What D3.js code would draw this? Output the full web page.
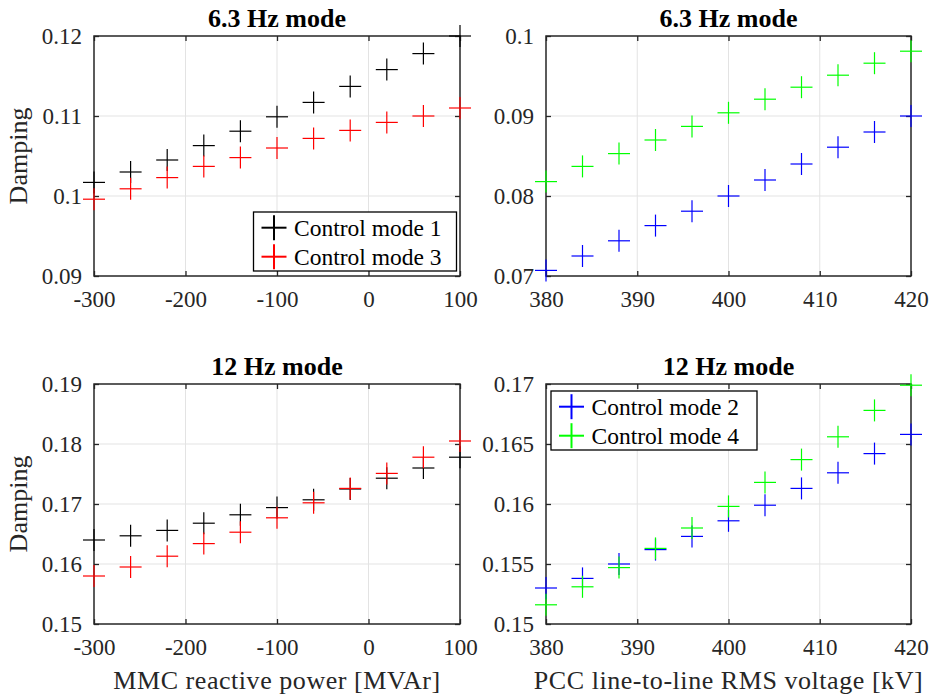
<!DOCTYPE html>
<html>
<head>
<meta charset="utf-8">
<script src="https://cdn.jsdelivr.net/npm/d3@7"></script>
<style>
	body{ margin:0; background:#fff; }
	svg{ display:block; font-family:"Liberation Serif","Times New Roman",serif; }
</style>
</head>
<body>
<svg id="chart" width="929" height="698"></svg>
<script>
	// reactive power sweep (left column) and PCC voltage sweep (right column)
	var q_values = [-300, -260, -220, -180, -140, -100, -60, -20, 20, 60, 100];
	var v_values = [380, 384, 388, 392, 396, 400, 404, 408, 412, 416, 420];

	// 6.3 Hz mode
	var m63_mode1 = [0.1017, 0.1030, 0.1045, 0.1063, 0.1081, 0.1099, 0.1117, 0.1137, 0.1158, 0.1178, 0.1200];
	var m63_mode3 = [0.0996, 0.1009, 0.1023, 0.1037, 0.1048, 0.1060, 0.1072, 0.1082, 0.1092, 0.1100, 0.1110];
	var m63_mode2 = [0.0707, 0.0725, 0.0744, 0.0763, 0.0781, 0.0800, 0.0820, 0.0840, 0.0861, 0.0880, 0.0900];
	var m63_mode4 = [0.0818, 0.0837, 0.0853, 0.0870, 0.0887, 0.0904, 0.0921, 0.0936, 0.0951, 0.0966, 0.0981];

	// 12 Hz mode
	var m12_mode1 = [0.1640, 0.1647, 0.1656, 0.1668, 0.1682, 0.1694, 0.1707, 0.1725, 0.1743, 0.1760, 0.1778];
	var m12_mode3 = [0.1580, 0.1595, 0.1613, 0.1634, 0.1653, 0.1677, 0.1702, 0.1726, 0.1751, 0.1778, 0.1805];
	var m12_mode2 = [0.1530, 0.1538, 0.1550, 0.1562, 0.1573, 0.1586, 0.1599, 0.1613, 0.1626, 0.1642, 0.1658];
	var m12_mode4 = [0.1516, 0.1531, 0.1547, 0.1563, 0.1580, 0.1598, 0.1618, 0.1637, 0.1656, 0.1678, 0.1699];

	var q_ticks = [-300, -200, -100, 0, 100];
	var v_ticks = [380, 390, 400, 410, 420];
	var y_ticks_tl = [0.09, 0.1, 0.11, 0.12];
	var y_ticks_tr = [0.07, 0.08, 0.09, 0.1];
	var y_ticks_bl = [0.15, 0.16, 0.17, 0.18, 0.19];
	var y_ticks_br = [0.15, 0.155, 0.16, 0.165, 0.17];

	var font = "'Liberation Serif', 'Times New Roman', serif";
	var axis_color = "#262626";
	var grid_color = "#e3e3e3";
	var m = 11; // half size of the + markers

	var panels = [
		{ left: 94, top: 36, w: 366, h: 240, title: "6.3 Hz mode", x: q_values, xdom: [-300, 100], xticks: q_ticks,
		  ydom: [0.09, 0.12], yticks: y_ticks_tl, ylabel: "Damping", xlabel: null,
		  series: [{ name: "Control mode 1", v: m63_mode1, c: "#000000" }, { name: "Control mode 3", v: m63_mode3, c: "#ff0000" }],
		  legend: { dx: 159.5, dy: 176, w: 203, h: 59 } },
		{ left: 546, top: 36, w: 365, h: 240, title: "6.3 Hz mode", x: v_values, xdom: [380, 420], xticks: v_ticks,
		  ydom: [0.07, 0.1], yticks: y_ticks_tr, ylabel: null, xlabel: null,
		  series: [{ name: "Control mode 2", v: m63_mode2, c: "#0000ff" }, { name: "Control mode 4", v: m63_mode4, c: "#00ff00" }],
		  legend: null },
		{ left: 94, top: 384, w: 366, h: 240, title: "12 Hz mode", x: q_values, xdom: [-300, 100], xticks: q_ticks,
		  ydom: [0.15, 0.19], yticks: y_ticks_bl, ylabel: "Damping", xlabel: "MMC reactive power [MVAr]",
		  series: [{ name: "Control mode 1", v: m12_mode1, c: "#000000" }, { name: "Control mode 3", v: m12_mode3, c: "#ff0000" }],
		  legend: null },
		{ left: 546, top: 384, w: 365, h: 240, title: "12 Hz mode", x: v_values, xdom: [380, 420], xticks: v_ticks,
		  ydom: [0.15, 0.17], yticks: y_ticks_br, ylabel: null, xlabel: "PCC line-to-line RMS voltage [kV]",
		  series: [{ name: "Control mode 2", v: m12_mode2, c: "#0000ff" }, { name: "Control mode 4", v: m12_mode4, c: "#00ff00" }],
		  legend: { dx: 5, dy: 7, w: 206, h: 59 } }
	];

	var svg = d3.select("#chart");

	function plus(sel, size, width){
		sel.append("line").attr("x1", -size).attr("x2", size).attr("y1", 0).attr("y2", 0);
		sel.append("line").attr("x1", 0).attr("x2", 0).attr("y1", -size).attr("y2", size);
		sel.selectAll("line").attr("stroke-width", width);
	}

	panels.forEach(function(p){
		var g = svg.append("g").attr("transform", "translate(" + p.left + "," + p.top + ")");

		var xscale = d3.scaleLinear().domain(p.xdom).range([0, p.w]);
		var yscale = d3.scaleLinear().domain(p.ydom).range([p.h, 0]);

		// grid
		g.selectAll("line.x-grid")
			.data(p.xticks.slice(1, -1))
			.enter().append("line")
				.attr("class", "x-grid")
				.attr("x1", function(d){ return xscale(d); })
				.attr("x2", function(d){ return xscale(d); })
				.attr("y1", 0).attr("y2", p.h)
				.attr("stroke", grid_color).attr("stroke-width", 1);
		g.selectAll("line.y-grid")
			.data(p.yticks.slice(1, -1))
			.enter().append("line")
				.attr("class", "y-grid")
				.attr("y1", function(d){ return yscale(d); })
				.attr("y2", function(d){ return yscale(d); })
				.attr("x1", 0).attr("x2", p.w)
				.attr("stroke", grid_color).attr("stroke-width", 1);

		// axes, ticks pointing inward on all four sides
		var fmt = function(d){ return String(d); };
		var xb = g.append("g").attr("transform", "translate(0," + p.h + ")")
			.call(d3.axisBottom(xscale).tickValues(p.xticks).tickSize(-5).tickPadding(15).tickFormat(fmt));
		var yl = g.append("g")
			.call(d3.axisLeft(yscale).tickValues(p.yticks).tickSize(-5).tickPadding(12).tickFormat(fmt));
		var xt = g.append("g")
			.call(d3.axisTop(xscale).tickValues(p.xticks).tickSize(-5).tickFormat(""));
		var yr = g.append("g").attr("transform", "translate(" + p.w + ",0)")
			.call(d3.axisRight(yscale).tickValues(p.yticks).tickSize(-5).tickFormat(""));

		[xb, yl, xt, yr].forEach(function(a){
			a.attr("font-family", font).attr("font-size", 23);
			a.select(".domain").remove();
			a.selectAll(".tick line").attr("stroke", axis_color).attr("stroke-width", 1.3);
			a.selectAll("text").attr("fill", axis_color);
		});

		g.append("rect")
			.attr("x", 0).attr("y", 0)
			.attr("width", p.w).attr("height", p.h)
			.attr("fill", "none")
			.attr("stroke", axis_color)
			.attr("stroke-width", 1.5);

		// data (not clipped)
		p.series.forEach(function(s){
			g.selectAll("g.pt-" + s.c.slice(1))
				.data(s.v)
				.enter().append("g")
					.attr("class", "pt-" + s.c.slice(1))
					.attr("transform", function(d, i){ return "translate(" + xscale(p.x[i]) + "," + yscale(d) + ")"; })
					.attr("stroke", s.c)
					.each(function(){ plus(d3.select(this), m, 1.2); });
		});

		// title
		g.append("text")
			.attr("x", p.w / 2)
			.attr("y", -9)
			.attr("text-anchor", "middle")
			.attr("fill", "#000")
			.attr("font-family", font)
			.style("font-size", "26px")
			.style("font-weight", "bold")
			.text(p.title);

		if(p.ylabel){
			g.append("text")
				.attr("transform", "translate(" + (-67) + "," + (p.h / 2) + ") rotate(-90)")
				.attr("text-anchor", "middle")
				.attr("fill", axis_color)
				.attr("font-family", font)
				.style("font-size", "26px")
				.text(p.ylabel);
		}
		if(p.xlabel){
			g.append("text")
				.attr("x", p.w / 2)
				.attr("y", p.h + 65)
				.attr("text-anchor", "middle")
				.attr("fill", axis_color)
				.attr("font-family", font)
				.style("font-size", "26px")
				.style("letter-spacing", "0.55px")
				.text(p.xlabel);
		}

		if(p.legend){
			var lg = g.append("g").attr("transform", "translate(" + p.legend.dx + "," + p.legend.dy + ")");
			lg.append("rect")
				.attr("width", p.legend.w).attr("height", p.legend.h)
				.attr("fill", "#fff")
				.attr("stroke", "#000")
				.attr("stroke-width", 1.3);
			p.series.forEach(function(s, i){
				var row = lg.append("g").attr("transform", "translate(0," + (15.7 + i * 29) + ")");
				row.append("g")
					.attr("transform", "translate(20.5,0)")
					.attr("stroke", s.c)
					.each(function(){ plus(d3.select(this), 12.5, 2); });
				row.append("text")
					.attr("x", 40.5)
					.attr("dy", "0.35em")
					.attr("fill", "#000")
					.attr("font-family", font)
					.style("font-size", "23.5px")
					.text(s.name);
			});
		}
	});
</script>
</body>
</html>
